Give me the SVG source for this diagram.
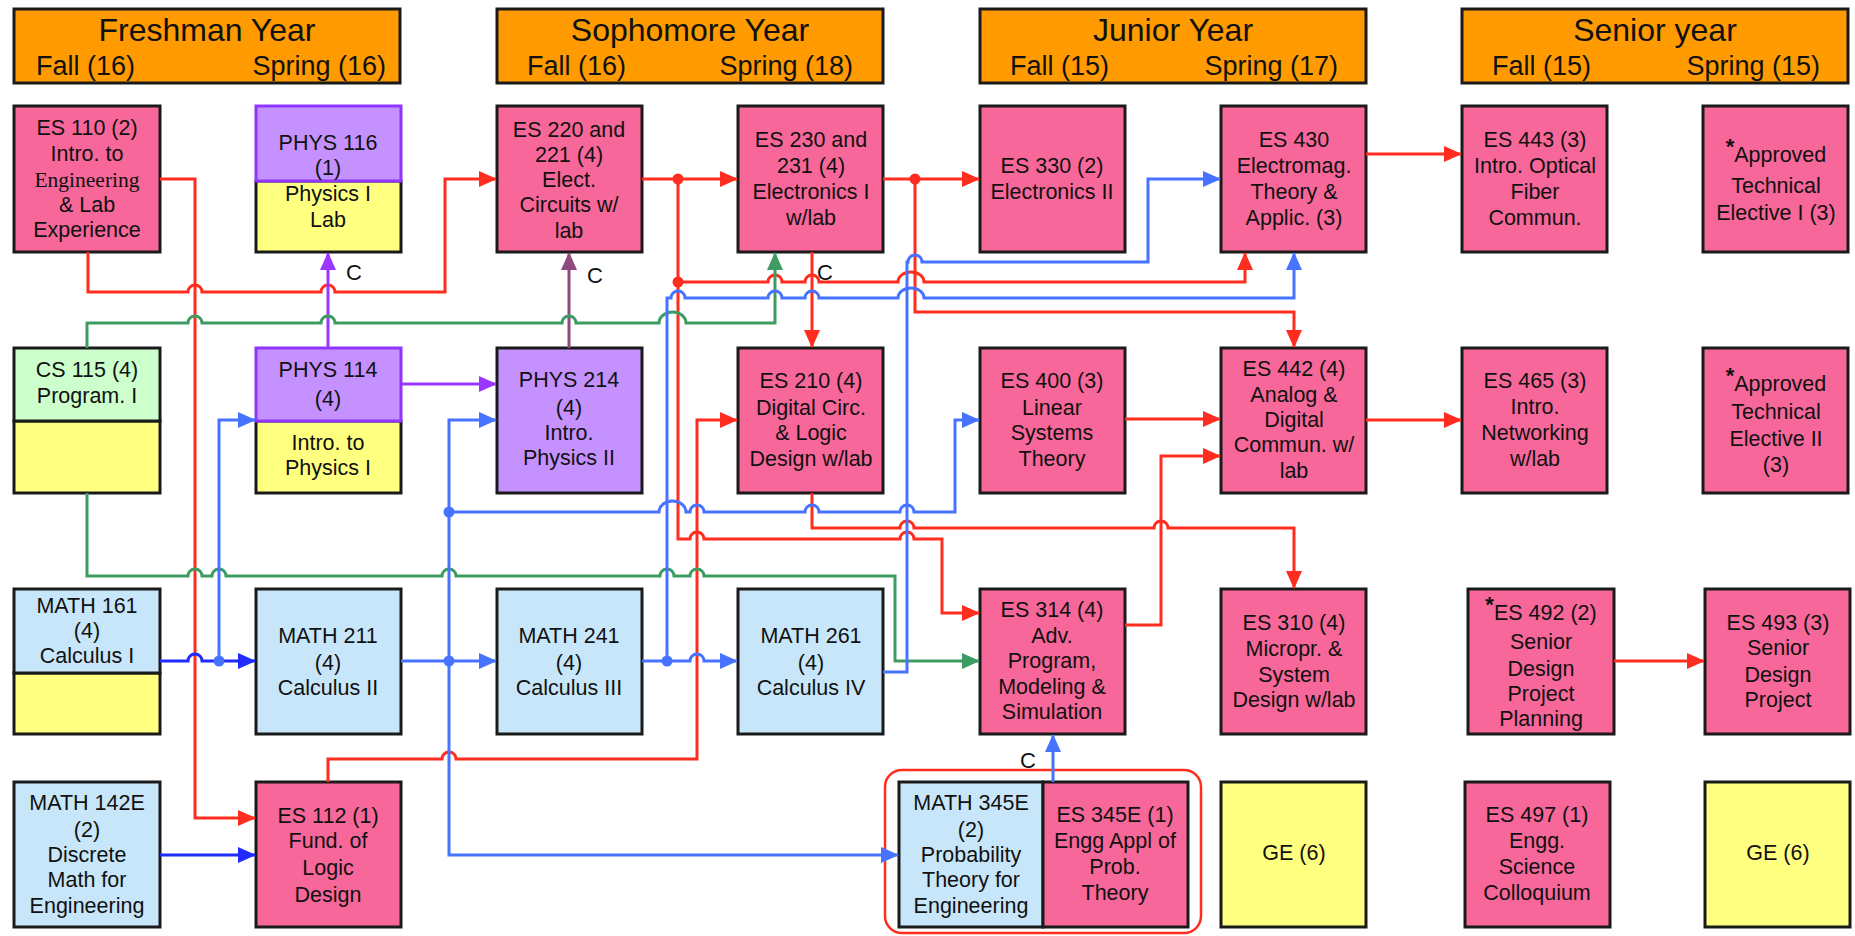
<svg xmlns="http://www.w3.org/2000/svg" width="1855" height="936" viewBox="0 0 1855 936">
<style>
.bg{fill:#ffffff}
.hdr{fill:#FF9A00;stroke:#1a1a1a;stroke-width:3}
.box{stroke:#1a1a1a;stroke-width:3}
.pink{fill:#F76799}
.blue{fill:#C8E6FA}
.yel{fill:#FFFF80}
.grn{fill:#CCFFCC}
.pur{fill:#C491FF}
.purb{fill:#C491FF;stroke:#8E36FF;stroke-width:3}
.ht{font-family:"Liberation Sans",Arial,Helvetica,sans-serif;font-size:32px;fill:#111;text-anchor:middle}
.hs{font-family:"Liberation Sans",Arial,Helvetica,sans-serif;font-size:27px;fill:#111}
.t{font-family:"Liberation Sans",Arial,Helvetica,sans-serif;font-size:21.5px;fill:#111;text-anchor:middle}
.serif{font-family:"Liberation Serif","Times New Roman",serif}
.c{font-family:"Liberation Sans",Arial,Helvetica,sans-serif;font-size:22px;fill:#111}
.ln{fill:none;stroke-width:3;stroke-linejoin:miter}
.r{stroke:#FF2D1F}
.b{stroke:#4673FF}
.db{stroke:#1F2BFF}
.g{stroke:#3E9B62}
.p{stroke:#9A36FF}
.m{stroke:#8E4A7C}
.dr{fill:#FF2D1F}
.dbl{fill:#4673FF}
.ring{fill:none;stroke:#FF2D1F;stroke-width:2.5}
</style>
<defs>
<marker id="ar" viewBox="0 0 18 16" markerUnits="userSpaceOnUse" markerWidth="18" markerHeight="16" refX="17" refY="8" orient="auto"><path d="M0,0 L18,8 L0,16 z" fill="#FF2D1F"/></marker>
<marker id="ab" viewBox="0 0 18 16" markerUnits="userSpaceOnUse" markerWidth="18" markerHeight="16" refX="17" refY="8" orient="auto"><path d="M0,0 L18,8 L0,16 z" fill="#4673FF"/></marker>
<marker id="adb" viewBox="0 0 18 16" markerUnits="userSpaceOnUse" markerWidth="18" markerHeight="16" refX="17" refY="8" orient="auto"><path d="M0,0 L18,8 L0,16 z" fill="#1F2BFF"/></marker>
<marker id="ag" viewBox="0 0 18 16" markerUnits="userSpaceOnUse" markerWidth="18" markerHeight="16" refX="17" refY="8" orient="auto"><path d="M0,0 L18,8 L0,16 z" fill="#3E9B62"/></marker>
<marker id="ap" viewBox="0 0 18 16" markerUnits="userSpaceOnUse" markerWidth="18" markerHeight="16" refX="17" refY="8" orient="auto"><path d="M0,0 L18,8 L0,16 z" fill="#9A36FF"/></marker>
<marker id="am" viewBox="0 0 18 16" markerUnits="userSpaceOnUse" markerWidth="18" markerHeight="16" refX="17" refY="8" orient="auto"><path d="M0,0 L18,8 L0,16 z" fill="#8E4A7C"/></marker>
</defs>
<rect class="bg" x="0" y="0" width="1855" height="936"/>

<!-- Year headers -->
<g id="hdr-freshman">
<rect class="hdr" x="14" y="9" width="386" height="74"/>
<text class="ht" x="207" y="41">Freshman Year</text>
<text class="hs" x="36" y="75">Fall (16)</text>
<text class="hs" x="386" y="75" text-anchor="end">Spring (16)</text>
</g>
<g id="hdr-sophomore">
<rect class="hdr" x="497" y="9" width="386" height="74"/>
<text class="ht" x="690" y="41">Sophomore Year</text>
<text class="hs" x="527" y="75">Fall (16)</text>
<text class="hs" x="853" y="75" text-anchor="end">Spring (18)</text>
</g>
<g id="hdr-junior">
<rect class="hdr" x="980" y="9" width="386" height="74"/>
<text class="ht" x="1173" y="41">Junior Year</text>
<text class="hs" x="1010" y="75">Fall (15)</text>
<text class="hs" x="1338" y="75" text-anchor="end">Spring (17)</text>
</g>
<g id="hdr-senior">
<rect class="hdr" x="1462" y="9" width="386" height="74"/>
<text class="ht" x="1655" y="41">Senior year</text>
<text class="hs" x="1492" y="75">Fall (15)</text>
<text class="hs" x="1820" y="75" text-anchor="end">Spring (15)</text>
</g>

<!-- Row 1 -->
<g id="es110">
<rect class="box pink" x="14" y="106" width="146" height="146"/>
<text class="t"><tspan x="87" y="135">ES 110 (2)</tspan><tspan x="87" y="161">Intro. to</tspan><tspan x="87" y="187" class="serif">Engineering</tspan><tspan x="87" y="212">&amp; Lab</tspan><tspan x="87" y="237">Experience</tspan></text>
</g>
<g id="phys116">
<rect class="box yel" x="256" y="181" width="145" height="71"/>
<rect class="purb" x="256" y="106" width="145" height="75"/>
<text class="t"><tspan x="328" y="150">PHYS 116</tspan><tspan x="328" y="175">(1)</tspan><tspan x="328" y="201">Physics I</tspan><tspan x="328" y="227">Lab</tspan></text>
</g>
<g id="es220">
<rect class="box pink" x="497" y="106" width="145" height="146"/>
<text class="t"><tspan x="569" y="137">ES 220 and</tspan><tspan x="569" y="162">221 (4)</tspan><tspan x="569" y="187">Elect.</tspan><tspan x="569" y="212">Circuits w/</tspan><tspan x="569" y="238">lab</tspan></text>
</g>
<g id="es230">
<rect class="box pink" x="738" y="106" width="145" height="146"/>
<text class="t"><tspan x="811" y="147">ES 230 and</tspan><tspan x="811" y="173">231 (4)</tspan><tspan x="811" y="199">Electronics I</tspan><tspan x="811" y="225">w/lab</tspan></text>
</g>
<g id="es330">
<rect class="box pink" x="980" y="106" width="145" height="146"/>
<text class="t"><tspan x="1052" y="173">ES 330 (2)</tspan><tspan x="1052" y="199">Electronics II</tspan></text>
</g>
<g id="es430">
<rect class="box pink" x="1221" y="106" width="145" height="146"/>
<text class="t"><tspan x="1294" y="147">ES 430</tspan><tspan x="1294" y="173">Electromag.</tspan><tspan x="1294" y="199">Theory &amp;</tspan><tspan x="1294" y="225">Applic. (3)</tspan></text>
</g>
<g id="es443">
<rect class="box pink" x="1462" y="106" width="145" height="146"/>
<text class="t"><tspan x="1535" y="147">ES 443 (3)</tspan><tspan x="1535" y="173">Intro. Optical</tspan><tspan x="1535" y="199">Fiber</tspan><tspan x="1535" y="225">Commun.</tspan></text>
</g>
<g id="elective1">
<rect class="box pink" x="1703" y="106" width="145" height="146"/>
<text class="t"><tspan x="1776" y="162"><tspan font-size="22" font-weight="bold" dy="-8">*</tspan><tspan dy="8">Approved</tspan></tspan><tspan x="1776" y="193">Technical</tspan><tspan x="1776" y="220">Elective I (3)</tspan></text>
</g>

<!-- Row 2 -->
<g id="cs115">
<rect class="box yel" x="14" y="421" width="146" height="72"/>
<rect class="box grn" x="14" y="348" width="146" height="73"/>
<text class="t"><tspan x="87" y="377">CS 115 (4)</tspan><tspan x="87" y="403">Program. I</tspan></text>
</g>
<g id="phys114">
<rect class="box yel" x="256" y="421" width="145" height="72"/>
<rect class="purb" x="256" y="348" width="145" height="73"/>
<text class="t"><tspan x="328" y="377">PHYS 114</tspan><tspan x="328" y="406">(4)</tspan><tspan x="328" y="450">Intro. to</tspan><tspan x="328" y="475">Physics I</tspan></text>
</g>
<g id="phys214">
<rect class="box pur" x="497" y="348" width="145" height="145"/>
<text class="t"><tspan x="569" y="387">PHYS 214</tspan><tspan x="569" y="415">(4)</tspan><tspan x="569" y="440">Intro.</tspan><tspan x="569" y="465">Physics II</tspan></text>
</g>
<g id="es210">
<rect class="box pink" x="738" y="348" width="145" height="145"/>
<text class="t"><tspan x="811" y="388">ES 210 (4)</tspan><tspan x="811" y="415">Digital Circ.</tspan><tspan x="811" y="440">&amp; Logic</tspan><tspan x="811" y="466">Design w/lab</tspan></text>
</g>
<g id="es400">
<rect class="box pink" x="980" y="348" width="145" height="145"/>
<text class="t"><tspan x="1052" y="388">ES 400 (3)</tspan><tspan x="1052" y="415">Linear</tspan><tspan x="1052" y="440">Systems</tspan><tspan x="1052" y="466">Theory</tspan></text>
</g>
<g id="es442">
<rect class="box pink" x="1221" y="348" width="145" height="145"/>
<text class="t"><tspan x="1294" y="376">ES 442 (4)</tspan><tspan x="1294" y="402">Analog &amp;</tspan><tspan x="1294" y="427">Digital</tspan><tspan x="1294" y="452">Commun. w/</tspan><tspan x="1294" y="478">lab</tspan></text>
</g>
<g id="es465">
<rect class="box pink" x="1462" y="348" width="145" height="145"/>
<text class="t"><tspan x="1535" y="388">ES 465 (3)</tspan><tspan x="1535" y="414">Intro.</tspan><tspan x="1535" y="440">Networking</tspan><tspan x="1535" y="466">w/lab</tspan></text>
</g>
<g id="elective2">
<rect class="box pink" x="1703" y="348" width="145" height="145"/>
<text class="t"><tspan x="1776" y="391"><tspan font-size="22" font-weight="bold" dy="-8">*</tspan><tspan dy="8">Approved</tspan></tspan><tspan x="1776" y="419">Technical</tspan><tspan x="1776" y="446">Elective II</tspan><tspan x="1776" y="472">(3)</tspan></text>
</g>

<!-- Row 3 -->
<g id="math161">
<rect class="box yel" x="14" y="673" width="146" height="61"/>
<rect class="box blue" x="14" y="589" width="146" height="84"/>
<text class="t"><tspan x="87" y="613">MATH 161</tspan><tspan x="87" y="638">(4)</tspan><tspan x="87" y="663">Calculus I</tspan></text>
</g>
<g id="math211">
<rect class="box blue" x="256" y="589" width="145" height="145"/>
<text class="t"><tspan x="328" y="643">MATH 211</tspan><tspan x="328" y="670">(4)</tspan><tspan x="328" y="695">Calculus II</tspan></text>
</g>
<g id="math241">
<rect class="box blue" x="497" y="589" width="145" height="145"/>
<text class="t"><tspan x="569" y="643">MATH 241</tspan><tspan x="569" y="670">(4)</tspan><tspan x="569" y="695">Calculus III</tspan></text>
</g>
<g id="math261">
<rect class="box blue" x="738" y="589" width="145" height="145"/>
<text class="t"><tspan x="811" y="643">MATH 261</tspan><tspan x="811" y="670">(4)</tspan><tspan x="811" y="695">Calculus IV</tspan></text>
</g>
<g id="es314">
<rect class="box pink" x="980" y="589" width="145" height="145"/>
<text class="t"><tspan x="1052" y="617">ES 314 (4)</tspan><tspan x="1052" y="643">Adv.</tspan><tspan x="1052" y="668">Program,</tspan><tspan x="1052" y="694">Modeling &amp;</tspan><tspan x="1052" y="719">Simulation</tspan></text>
</g>
<g id="es310">
<rect class="box pink" x="1221" y="589" width="145" height="145"/>
<text class="t"><tspan x="1294" y="630">ES 310 (4)</tspan><tspan x="1294" y="656">Micropr. &amp;</tspan><tspan x="1294" y="682">System</tspan><tspan x="1294" y="707">Design w/lab</tspan></text>
</g>
<g id="es492">
<rect class="box pink" x="1468" y="589" width="146" height="145"/>
<text class="t"><tspan x="1541" y="620"><tspan font-size="22" font-weight="bold" dy="-8">*</tspan><tspan dy="8">ES 492 (2)</tspan></tspan><tspan x="1541" y="649">Senior</tspan><tspan x="1541" y="676">Design</tspan><tspan x="1541" y="701">Project</tspan><tspan x="1541" y="726">Planning</tspan></text>
</g>
<g id="es493">
<rect class="box pink" x="1705" y="589" width="145" height="145"/>
<text class="t"><tspan x="1778" y="630">ES 493 (3)</tspan><tspan x="1778" y="655">Senior</tspan><tspan x="1778" y="682">Design</tspan><tspan x="1778" y="707">Project</tspan></text>
</g>

<!-- Row 4 -->
<g id="math142e">
<rect class="box blue" x="14" y="782" width="146" height="145"/>
<text class="t"><tspan x="87" y="810">MATH 142E</tspan><tspan x="87" y="837">(2)</tspan><tspan x="87" y="862">Discrete</tspan><tspan x="87" y="887">Math for</tspan><tspan x="87" y="913">Engineering</tspan></text>
</g>
<g id="es112">
<rect class="box pink" x="256" y="782" width="145" height="145"/>
<text class="t"><tspan x="328" y="823">ES 112 (1)</tspan><tspan x="328" y="848">Fund. of</tspan><tspan x="328" y="875">Logic</tspan><tspan x="328" y="902">Design</tspan></text>
</g>
<g id="prob-group">
<rect class="ring" x="885" y="770" width="316" height="163" rx="17" ry="17"/>
</g>
<g id="math345e">
<rect class="box blue" x="899" y="782" width="144" height="145"/>
<text class="t"><tspan x="971" y="810">MATH 345E</tspan><tspan x="971" y="837">(2)</tspan><tspan x="971" y="862">Probability</tspan><tspan x="971" y="887">Theory for</tspan><tspan x="971" y="913">Engineering</tspan></text>
</g>
<g id="es345e">
<rect class="box pink" x="1043" y="782" width="145" height="145"/>
<text class="t"><tspan x="1115" y="822">ES 345E (1)</tspan><tspan x="1115" y="848">Engg Appl of</tspan><tspan x="1115" y="874">Prob.</tspan><tspan x="1115" y="900">Theory</tspan></text>
</g>
<g id="ge1">
<rect class="box yel" x="1221" y="782" width="145" height="145"/>
<text class="t" x="1294" y="860">GE (6)</text>
</g>
<g id="es497">
<rect class="box pink" x="1465" y="782" width="145" height="145"/>
<text class="t"><tspan x="1537" y="822">ES 497 (1)</tspan><tspan x="1537" y="848">Engg.</tspan><tspan x="1537" y="874">Science</tspan><tspan x="1537" y="900">Colloquium</tspan></text>
</g>
<g id="ge2">
<rect class="box yel" x="1705" y="782" width="145" height="145"/>
<text class="t" x="1778" y="860">GE (6)</text>
</g>

<!-- Connectors -->
<g id="connectors">
<!-- red -->
<path class="ln r" marker-end="url(#ar)" d="M88,252 V292 H188 a7,7 0 0 1 14,0 H321 a7,7 0 0 1 14,0 H445 V179 H496"/>
<path class="ln r" marker-end="url(#ar)" d="M160,179 H195 V818 H255"/>
<path class="ln r" marker-end="url(#ar)" d="M642,179 H737"/>
<path class="ln r" marker-end="url(#ar)" d="M678,179 V539 H690 a7,7 0 0 1 14,0 H900 a7,7 0 0 1 14,0 H942 V613 H979"/>
<path class="ln r" marker-end="url(#ar)" d="M678,282 H768 a7,7 0 0 1 14,0 H805 a7,7 0 0 1 14,0 H898 a13,10 0 0 1 26,0 H1245 V253"/>
<path class="ln r" marker-end="url(#ar)" d="M883,179 H979"/>
<path class="ln r" marker-end="url(#ar)" d="M915,179 V312 H1294 V347"/>
<path class="ln r" marker-end="url(#ar)" d="M812,252 V347"/>
<path class="ln r" marker-end="url(#ar)" d="M812,493 V528 H900 a7,7 0 0 1 14,0 H1154 a7,7 0 0 1 14,0 H1294 V588"/>
<path class="ln r" marker-end="url(#ar)" d="M1125,419 H1220"/>
<path class="ln r" marker-end="url(#ar)" d="M1125,625 H1161 V456 H1220"/>
<path class="ln r" marker-end="url(#ar)" d="M1366,154 H1461"/>
<path class="ln r" marker-end="url(#ar)" d="M1366,420 H1461"/>
<path class="ln r" marker-end="url(#ar)" d="M1614,661 H1704"/>
<path class="ln r" marker-end="url(#ar)" d="M328,782 V759 H442 a7,7 0 0 1 14,0 H697 V420 H737"/>
<!-- purple -->
<path class="ln p" marker-end="url(#ap)" d="M328,348 V253"/>
<path class="ln p" marker-end="url(#ap)" d="M401,384 H496"/>
<path class="ln m" marker-end="url(#am)" d="M569,348 V253"/>
<!-- green -->
<path class="ln g" marker-end="url(#ag)" d="M87,348 V323 H188 a7,7 0 0 1 14,0 H321 a7,7 0 0 1 14,0 H562 a7,7 0 0 1 14,0 H659 a13.5,11 0 0 1 27,0 H775 V253"/>
<path class="ln g" marker-end="url(#ag)" d="M87,493 V576 H188 a7,7 0 0 1 14,0 H212 a7,7 0 0 1 14,0 H442 a7,7 0 0 1 14,0 H660 a7,7 0 0 1 14,0 H690 a7,7 0 0 1 14,0 H895 V661 H979"/>
<!-- blue -->
<path class="ln db" marker-end="url(#adb)" d="M160,661 H188 a7,7 0 0 1 14,0 H255"/>
<path class="ln db" marker-end="url(#adb)" d="M160,855 H255"/>
<path class="ln b" marker-end="url(#ab)" d="M219,661 V420 H255"/>
<path class="ln b" marker-end="url(#ab)" d="M401,661 H496"/>
<path class="ln b" marker-end="url(#ab)" d="M449,661 V420 H496"/>
<path class="ln b" marker-end="url(#ab)" d="M449,661 V855 H898"/>
<path class="ln b" marker-end="url(#ab)" d="M449,512 H659 a13.5,11 0 0 1 27,0 H690 a7,7 0 0 1 14,0 H805 a7,7 0 0 1 14,0 H900 a7,7 0 0 1 14,0 H955 V420 H979"/>
<path class="ln b" marker-end="url(#ab)" d="M642,661 H690 a7,7 0 0 1 14,0 H737"/>
<path class="ln b" marker-end="url(#ab)" d="M667,661 V298 H671 a7,7 0 0 1 14,0 H768 a7,7 0 0 1 14,0 H805 a7,7 0 0 1 14,0 H898 a13,10 0 0 1 26,0 H1294 V253"/>
<path class="ln b" marker-end="url(#ab)" d="M883,672 H907 V262 H908 a7,7 0 0 1 14,0 H1148 V179 H1220"/>
<path class="ln b" marker-end="url(#ab)" d="M1053,782 V735"/>
<!-- junction dots -->
<circle class="dr" cx="678" cy="179" r="5.5"/>
<circle class="dr" cx="678" cy="282" r="5.5"/>
<circle class="dr" cx="915" cy="179" r="5.5"/>
<circle class="dbl" cx="219" cy="661" r="5.5"/>
<circle class="dbl" cx="449" cy="661" r="5.5"/>
<circle class="dbl" cx="449" cy="512" r="5.5"/>
<circle class="dbl" cx="667" cy="661" r="5.5"/>
<!-- corequisite labels -->
<text class="c" x="346" y="280">C</text>
<text class="c" x="587" y="283">C</text>
<text class="c" x="817" y="280">C</text>
<text class="c" x="1020" y="768">C</text>
</g>
</svg>
